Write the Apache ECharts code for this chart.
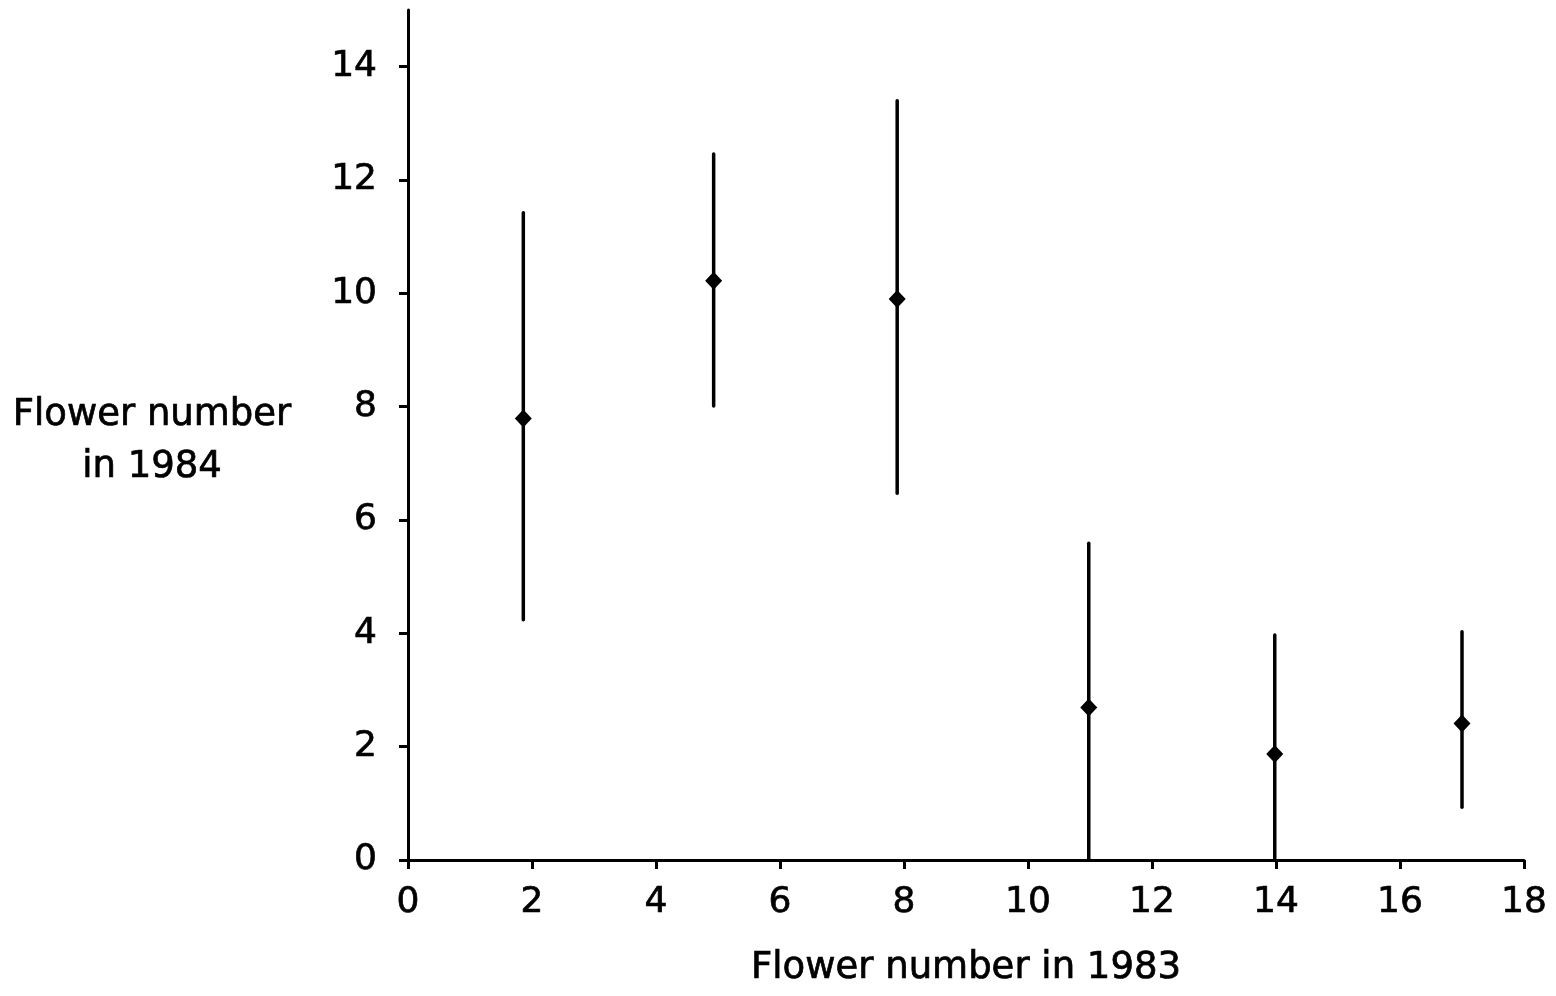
<!DOCTYPE html>
<html>
<head>
<meta charset="utf-8">
<script src="https://cdn.jsdelivr.net/npm/echarts@6/dist/echarts.min.js"></script>
<style>
html,body{margin:0;padding:0;background:#fff;}
#chart{width:1556px;height:996px;}
</style>
</head>
<body>
<div id="chart"></div>
<script>
// Data
var xVals = [1.86, 4.93, 7.89, 10.98, 13.98, 17.0];
var means = [7.79, 10.22, 9.90, 2.69, 1.87, 2.41];
var lows  = [4.24, 8.01, 6.47, 0.0, 0.0, 0.93];
var highs = [11.42, 12.46, 13.40, 5.59, 3.97, 4.03];
var yTicks = [0, 2, 4, 6, 8, 10, 12, 14];
var xTicks = [0, 2, 4, 6, 8, 10, 12, 14, 16, 18];

var pointData = xVals.map(function (x, i) { return [x, means[i]]; });
var barData = xVals.map(function (x, i) { return [x, lows[i], highs[i]]; });

var font = '"DejaVu Sans", Verdana, sans-serif';
var chart = echarts.init(document.getElementById('chart'));
chart.setOption({
  backgroundColor: '#fff',
  animation: false,
  grid: { left: 408, right: 32, top: 10, bottom: 136, containLabel: false },
  xAxis: {
    type: 'value', min: 0, max: 18, interval: 2,
    name: 'Flower number in 1983',
    nameLocation: 'middle', nameGap: 90,
    nameTextStyle: { fontFamily: font, fontSize: 37, color: '#000', textBorderColor: '#000', textBorderWidth: 0.7 },
    axisLine: { show: true, onZero: false, lineStyle: { color: '#000', width: 3 } },
    axisTick: { show: true, inside: false, length: 9, lineStyle: { color: '#000', width: 3 }, customValues: xTicks },
    axisLabel: { fontFamily: font, fontSize: 36, color: '#000', margin: 25, textBorderColor: '#000', textBorderWidth: 0.7, customValues: xTicks },
    splitLine: { show: false }
  },
  yAxis: {
    type: 'value', min: 0, max: 15, interval: 1,
    name: '{a|Flower number}\n{a|in 1984}',
    nameLocation: 'middle', nameGap: 256, nameRotate: 0,
    nameTextStyle: {
      align: 'center', verticalAlign: 'middle',
      rich: {
        a: { fontFamily: font, fontSize: 37, color: '#000', lineHeight: 52, padding: [12, 0, 0, 0], align: 'center', textBorderColor: '#000', textBorderWidth: 0.7 }
      }
    },
    axisLine: { show: true, onZero: false, lineStyle: { color: '#000', width: 3 } },
    axisTick: { show: true, inside: false, length: 9, lineStyle: { color: '#000', width: 3 }, customValues: yTicks },
    axisLabel: { fontFamily: font, fontSize: 36, color: '#000', margin: 31, textBorderColor: '#000', textBorderWidth: 0.7, customValues: yTicks },
    splitLine: { show: false }
  },
  series: [
    {
      type: 'custom',
      data: barData,
      renderItem: function (params, api) {
        var p1 = api.coord([api.value(0), api.value(1)]);
        var p2 = api.coord([api.value(0), api.value(2)]);
        return {
          type: 'line',
          shape: { x1: p1[0], y1: p1[1], x2: p2[0], y2: p2[1] },
          style: { stroke: '#000', lineWidth: 3.5, lineCap: 'round' }
        };
      },
      z: 2
    },
    {
      type: 'scatter',
      data: pointData,
      symbol: 'diamond',
      symbolSize: [17, 18],
      itemStyle: { color: '#000', opacity: 1 },
      z: 3
    }
  ]
});
</script>
</body>
</html>
